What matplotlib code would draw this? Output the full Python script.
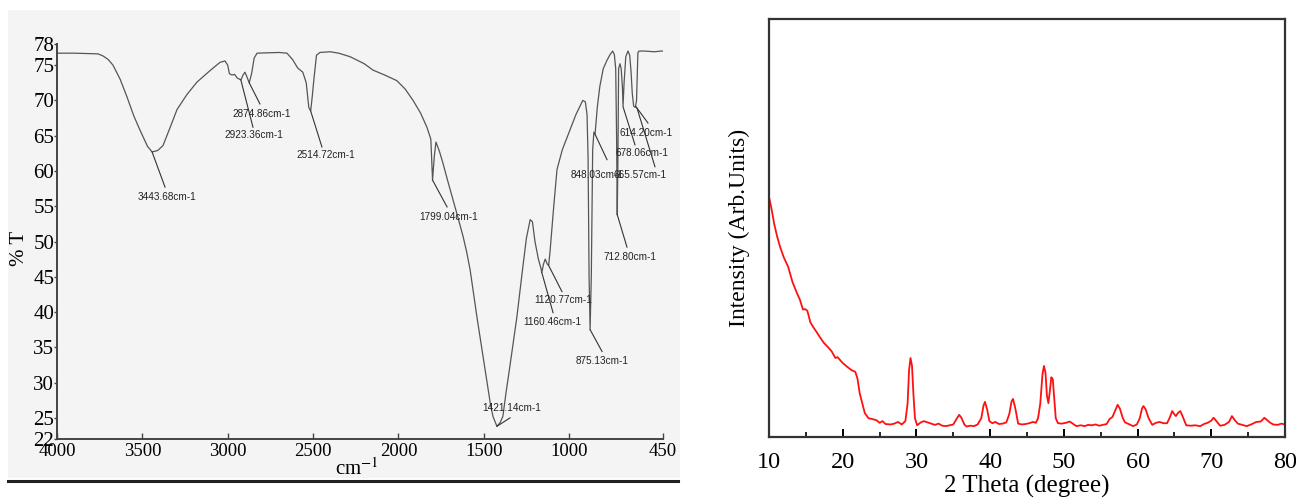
import matplotlib
matplotlib.use("Agg")
import matplotlib.pyplot as plt
from matplotlib.patches import Rectangle
from matplotlib.lines import Line2D

# ---------------- FTIR data (wavenumber cm-1, %T) ----------------
ftir_wn = [4000, 3900, 3760, 3730, 3700, 3672, 3630, 3590, 3550, 3514, 3470, 3443,
           3410, 3379, 3340, 3297, 3240, 3180, 3100, 3045, 3016, 3000, 2990, 2975,
           2960, 2945, 2923, 2910, 2899, 2890, 2874, 2860, 2845, 2828, 2700, 2653,
           2620, 2590, 2560, 2540, 2525, 2514, 2505, 2495, 2480, 2460, 2400, 2350,
           2283, 2200, 2149, 2080, 2009, 1960, 1914, 1870, 1833, 1810, 1800, 1790,
           1780, 1760, 1739, 1710, 1680, 1650, 1621, 1600, 1580, 1540, 1500, 1481,
           1460, 1446, 1423, 1405, 1388, 1370, 1347, 1306, 1271, 1250, 1228, 1215,
           1200, 1180, 1165, 1160, 1150, 1140, 1128, 1120, 1112, 1090, 1071, 1040,
           995, 960, 920, 905, 895, 889, 883, 877, 870, 866, 862, 855, 848, 835,
           820, 800, 778, 760, 745, 735, 727, 722, 718, 714, 710, 702, 695, 688,
           684, 678, 668, 655, 645, 637, 630, 622, 612, 605, 600, 597, 590, 560,
           500, 460, 450]
ftir_t = [76.7, 76.7, 76.6, 76.3, 75.8, 75.0, 73.0, 70.5, 67.8, 65.8, 63.5, 62.7,
          62.9, 63.6, 66.0, 68.7, 70.8, 72.6, 74.3, 75.4, 75.6, 75.0, 73.8, 73.6,
          73.7, 73.2, 72.9, 73.6, 74.0, 73.5, 72.5, 73.8, 76.0, 76.7, 76.8, 76.7,
          75.8, 74.6, 74.0, 72.5, 69.0, 68.5, 70.5, 73.0, 76.4, 76.8, 76.9, 76.7,
          76.2, 75.2, 74.3, 73.6, 72.8, 71.6, 70.0, 68.2, 66.2, 64.5, 58.7, 62.0,
          64.1, 62.8, 61.1, 58.5, 55.9, 53.3, 50.7, 48.5, 46.0, 39.3, 33.0, 30.0,
          26.8, 25.2, 23.8, 24.3, 25.2, 28.5, 32.3, 39.3, 46.4, 50.5, 53.1, 52.8,
          50.0, 47.5, 46.2, 45.6, 46.8, 47.5, 46.8, 46.6, 48.5, 55.0, 60.2, 63.0,
          65.8, 68.0, 70.0, 69.8, 68.0, 62.0, 45.0, 37.5, 45.0, 54.0, 63.0, 65.5,
          65.2, 69.0, 72.0, 74.5, 75.7, 76.5, 77.0, 76.5, 74.5, 65.0, 53.8, 62.0,
          74.5, 75.2, 74.5, 72.0, 69.2, 72.5, 76.2, 77.0, 76.4, 74.0, 71.0, 69.2,
          69.0, 70.0, 74.0, 76.8, 77.0, 77.0, 76.9, 77.0, 77.0]

# peak annotations: label, peak (wn, %T), leader end (wn, %T), text (wn, %T)
ann_labels = ["3443.68cm-1", "2874.86cm-1", "2923.36cm-1", "2514.72cm-1",
              "1799.04cm-1", "1421.14cm-1", "1120.77cm-1", "1160.46cm-1",
              "875.13cm-1", "712.80cm-1", "848.03cm-1", "665.57cm-1",
              "678.06cm-1", "614.20cm-1"]
ann_peak = [(3443, 62.7), (2874, 72.5), (2923, 72.9), (2514, 68.5),
            (1800, 58.7), (1423, 23.8), (1120, 46.6), (1160, 45.6),
            (877, 37.5), (718, 53.8), (848, 65.2), (602, 68.9),
            (684, 69.1), (608, 69.1)]
ann_end = [(3367, 57.7), (2811, 69.5), (2852, 66.2), (2448, 63.4),
           (1715, 54.9), (1346, 25.0), (1042, 42.9), (1094, 39.9),
           (807, 34.4), (661, 49.2), (778, 61.6), (497, 60.6),
           (614, 63.7), (538, 66.8)]
ann_text = [(3356, 56.3), (2799, 68.1), (2846, 65.1), (2424, 62.3),
            (1704, 53.5), (1334, 26.4), (1036, 41.7), (1100, 38.6),
            (807, 33.0), (643, 47.8), (837, 59.4), (585, 59.4),
            (573, 62.6), (550, 65.4)]

ftir_xticks = [4000, 3500, 3000, 2500, 2000, 1500, 1000, 450]
ftir_yticks = [22, 25, 30, 35, 40, 45, 50, 55, 60, 65, 70, 75, 78]

# ---------------- XRD data (2 theta, intensity a.u.) ----------------
xrd_2theta = [10.0, 10.3, 10.7, 11.1, 11.5, 12.0, 12.6, 13.2, 13.8, 14.2, 14.6, 14.9,
              15.2, 15.6, 16.0, 16.5, 16.9, 17.4, 18.0, 18.5, 19.0, 19.3, 19.6, 20.0,
              20.6, 21.2, 21.7, 22.0, 22.3, 22.7, 23.0, 23.5, 24.0, 24.6, 25.0, 25.4,
              25.8, 26.5, 27.0, 27.5, 28.0, 28.5, 28.8, 29.0, 29.2, 29.4, 29.6, 29.8,
              30.1, 30.6, 31.0, 31.5, 32.0, 32.5, 33.0, 33.5, 34.0, 34.5, 35.0, 35.5,
              35.8, 36.1, 36.5, 36.8, 37.3, 37.8, 38.3, 38.8, 39.1, 39.3, 39.6, 39.9,
              40.3, 40.7, 41.2, 41.7, 42.2, 42.6, 42.9, 43.1, 43.4, 43.8, 44.3, 44.8,
              45.3, 45.8, 46.2, 46.5, 46.8, 47.1, 47.3, 47.5, 47.7, 47.9, 48.1, 48.3,
              48.5, 48.7, 48.9, 49.2, 49.7, 50.3, 50.8, 51.2, 51.7, 52.3, 52.8, 53.3,
              53.8, 54.3, 54.8, 55.3, 55.8, 56.2, 56.6, 57.0, 57.3, 57.6, 58.0, 58.3,
              58.8, 59.4, 59.9, 60.3, 60.6, 60.8, 61.1, 61.5, 62.0, 62.5, 63.0, 63.5,
              64.0, 64.4, 64.7, 65.0, 65.2, 65.5, 65.8, 66.1, 66.6, 67.2, 67.8, 68.5,
              69.0, 69.5, 70.0, 70.3, 70.6, 71.2, 71.8, 72.4, 72.8, 73.2, 73.6, 74.2,
              74.8, 75.4, 76.1, 76.7, 77.2, 77.6, 78.0, 78.4, 79.0, 79.5, 80.0]
xrd_int = [57.4, 55.0, 51.0, 48.0, 45.5, 43.0, 40.7, 37.0, 34.4, 32.8, 30.5, 30.6,
           30.2, 27.5, 26.3, 25.0, 23.9, 22.6, 21.5, 20.5, 18.9, 19.1, 18.5, 17.7,
           16.8, 16.0, 15.6, 14.0, 10.5, 7.8, 5.7, 4.5, 4.3, 4.0, 3.4, 3.8,
           3.1, 3.0, 3.2, 3.6, 3.0, 3.8, 8.0, 16.0, 18.9, 17.0, 10.0, 4.5,
           2.8, 3.5, 3.8, 3.5, 3.2, 2.9, 3.2, 2.7, 2.6, 2.8, 3.0, 4.5,
           5.3, 4.6, 3.0, 2.5, 2.7, 2.6, 3.0, 4.5, 7.5, 8.4, 6.5, 3.8,
           3.3, 3.6, 3.1, 3.2, 3.5, 5.5, 8.5, 9.1, 7.0, 3.2, 3.0, 3.1,
           3.3, 3.6, 3.4, 4.5, 8.0, 15.0, 17.0, 15.5, 10.0, 8.1, 11.0, 14.3,
           13.8, 9.0, 4.5, 3.3, 3.2, 3.4, 3.7, 3.2, 2.6, 2.8, 2.6, 2.9,
           2.8, 3.0, 2.7, 2.9, 3.1, 4.3, 4.8, 6.5, 7.7, 6.8, 4.5, 3.5,
           3.1, 2.6, 3.0, 4.5, 6.8, 7.4, 6.6, 4.5, 2.9, 3.4, 3.6, 3.3,
           3.3, 4.8, 6.2, 5.4, 5.0, 5.8, 6.2, 5.0, 2.8, 2.7, 2.8, 2.6,
           3.1, 3.4, 3.9, 4.6, 4.0, 2.7, 2.9, 3.6, 5.0, 4.0, 3.2, 2.9,
           2.6, 3.0, 3.6, 3.7, 4.6, 4.0, 3.4, 3.0, 2.9, 3.2, 3.0]
xrd_xticks = [10, 20, 30, 40, 50, 60, 70, 80]
xrd_minor = [15, 25, 35, 45, 55, 65, 75]

serif = ["Liberation Serif", "DejaVu Serif"]
narrow = ["Liberation Sans Narrow", "Liberation Sans", "DejaVu Sans"]
plt.rcParams["font.family"] = serif
plt.rcParams["mathtext.fontset"] = "stix"

W, H = 1296, 503
fig = plt.figure(figsize=(W / 100, H / 100), dpi=100)
fig.patch.set_facecolor("white")

# scanned-looking panel background for the FTIR figure (behind the axes)
fig.patches.append(Rectangle((8 / W, 1 - 478 / H), (680 - 8) / W, (478 - 10) / H,
                             transform=fig.transFigure, facecolor="#f4f4f4",
                             edgecolor="none", zorder=-5))
fig.lines.append(Line2D([8 / W, 678 / W], [1 - 481 / H, 1 - 481 / H],
                        transform=fig.transFigure, color="#222222", lw=2.2,
                        zorder=-4))

# ---------------- FTIR axes ----------------
ax1 = fig.add_axes([57 / W, 1 - 439 / H, (663 - 57) / W, (439 - 44) / H])
ax1.set_zorder(2)
ax1.patch.set_alpha(0)
ax1.plot(ftir_wn, ftir_t, color="#555555", lw=0.9)
ax1.set_xlim(4000, 450)
ax1.set_ylim(22, 78)
ax1.set_xticks(ftir_xticks)
ax1.set_yticks(ftir_yticks)
for s in ["top", "right"]:
    ax1.spines[s].set_visible(False)
for s in ["left", "bottom"]:
    ax1.spines[s].set_color("#444444")
    ax1.spines[s].set_linewidth(1.4)
ax1.tick_params(axis="x", direction="in", length=4, width=1, colors="#444444",
                labelcolor="black", labelsize=13.5, pad=3)
ax1.tick_params(axis="y", direction="out", length=2, width=1, colors="#444444",
                labelcolor="black", labelsize=15, pad=0)

for lab, pk, en, tx in zip(ann_labels, ann_peak, ann_end, ann_text):
    ax1.plot([pk[0], en[0]], [pk[1], en[1]], color="#333333", lw=0.8)
    ax1.text(tx[0], tx[1], lab, ha="center", va="center", fontsize=7.2,
             family=narrow, color="#222222")

fig.text(19 / W, 1 - 248 / H, "% T", rotation=90, ha="center", va="center",
         fontsize=15, zorder=3)
fig.text(357 / W, 1 - 469 / H, "cm$^{-1}$", ha="center", va="center",
         fontsize=15, zorder=3)

# ---------------- XRD axes ----------------
ax2 = fig.add_axes([769 / W, 1 - 437 / H, (1285 - 769) / W, (437 - 19) / H])
ax2.plot(xrd_2theta, xrd_int, color="#ff1010", lw=1.3)
ax2.set_xlim(10, 80)
ax2.set_ylim(0, 100)
ax2.set_xticks(xrd_xticks)
ax2.set_xticks(xrd_minor, minor=True)
ax2.set_yticks([])
for s in ax2.spines.values():
    s.set_color("#333333")
    s.set_linewidth(1.6)
ax2.tick_params(axis="x", which="major", direction="in", length=6, width=1.4,
                labelsize=17.5, pad=11)
ax2.tick_params(axis="x", which="minor", direction="in", length=3.5, width=1.2)
ax2.set_xlabel("2 Theta (degree)", fontsize=18, labelpad=1)
ax2.set_ylabel("Intensity (Arb.Units)", fontsize=17, labelpad=14)

fig.savefig("out.png", dpi=100)
